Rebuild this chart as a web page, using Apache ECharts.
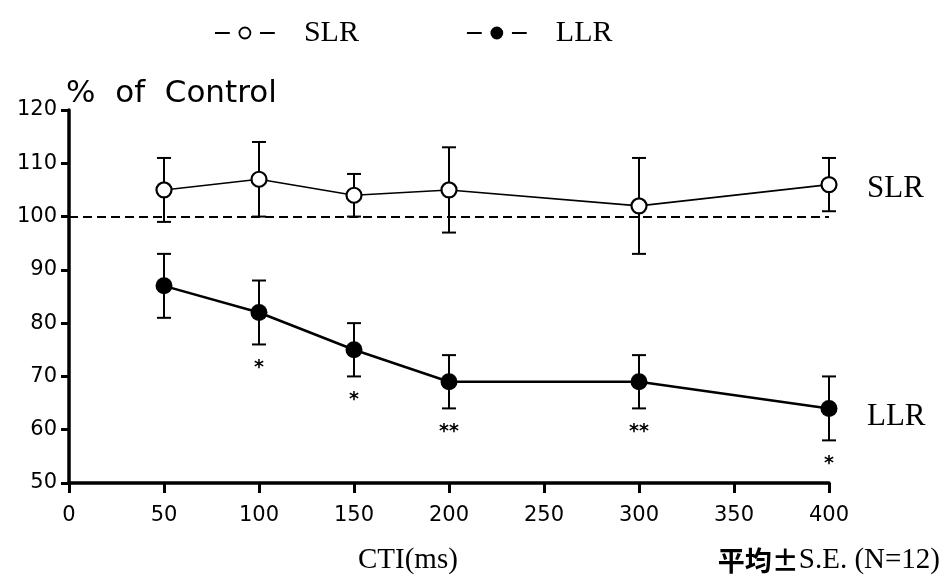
<!DOCTYPE html>
<html>
<head>
<meta charset="utf-8">
<script src="https://cdn.jsdelivr.net/npm/echarts@6/dist/echarts.min.js"></script>
<style>
html,body{margin:0;padding:0;background:#fff;}
#chart{width:944px;height:583px;}
</style>
</head>
<body>
<div id="chart"></div>
<script>
// Data
var ctiValues = [50, 100, 150, 200, 300, 400];
var slrMean = [105, 107, 104, 105, 102, 106];
var slrLow  = [99, 100, 100, 97, 93, 101];
var slrHigh = [111, 114, 108, 113, 111, 111];
var llrMean = [87, 82, 75, 69, 69, 64];
var llrLow  = [81, 76, 70, 64, 64, 58];
var llrHigh = [93, 88, 80, 74, 74, 70];
var significance = ['', '*', '*', '**', '**', '*'];
var xTicks = [0, 50, 100, 150, 200, 250, 300, 350, 400];
var yTicks = [50, 60, 70, 80, 90, 100, 110, 120];
var controlLevel = 100;

var serif = '"Liberation Serif", "DejaVu Serif", serif';
var sans = '"DejaVu Sans", sans-serif';
var cjk = '"Noto Sans CJK JP", "Noto Sans CJK SC", sans-serif';

// legend icon "-o-": two short dashes and a circle
var legendIcon = 'path://M0,5.8h13v0.4h-13z M45,5.8h13v0.4h-13z M23.5,6a5.5,5.5 0 1,0 11,0a5.5,5.5 0 1,0 -11,0z';

function pairs(xs, ys) { return xs.map(function (x, i) { return [x, ys[i]]; }); }
function errData(xs, lo, hi) { return xs.map(function (x, i) { return [x, lo[i], hi[i]]; }); }

function errorBarRender(params, api) {
  var x = api.value(0);
  var lo = api.coord([x, api.value(1)]);
  var hi = api.coord([x, api.value(2)]);
  var cap = 7;
  var st = { stroke: '#000', lineWidth: 2 };
  return {
    type: 'group',
    children: [
      { type: 'line', shape: { x1: lo[0], y1: lo[1], x2: hi[0], y2: hi[1] }, style: st },
      { type: 'line', shape: { x1: lo[0] - cap, y1: lo[1], x2: lo[0] + cap, y2: lo[1] }, style: st },
      { type: 'line', shape: { x1: hi[0] - cap, y1: hi[1], x2: hi[0] + cap, y2: hi[1] }, style: st }
    ]
  };
}

var sigData = ctiValues.map(function (x, i) { return [x, llrLow[i], significance[i]]; });

var chart = echarts.init(document.getElementById('chart'), null, { renderer: 'canvas' });
chart.setOption({
  animation: false,
  backgroundColor: '#fff',
  legend: {
    top: 13,
    left: 210,
    itemGap: 108,
    itemWidth: 58,
    itemHeight: 12,
    textStyle: { fontFamily: serif, fontSize: 30, color: '#000', padding: [0, 0, 0, 25] },
    data: [
      { name: 'SLR', icon: legendIcon, itemStyle: { color: '#fff', borderColor: '#000', borderWidth: 1.8 } },
      { name: 'LLR', icon: legendIcon, itemStyle: { color: '#000', borderColor: '#000', borderWidth: 1.8 } }
    ]
  },
  grid: { left: 69, right: 115, top: 110, bottom: 100, containLabel: false },
  xAxis: {
    type: 'value',
    min: 0, max: 400, interval: 50,
    axisLine: { lineStyle: { color: '#000', width: 3.5 } },
    axisTick: { show: true, length: 10, lineStyle: { color: '#000', width: 3 } },
    axisLabel: { color: '#000', fontFamily: sans, fontSize: 21, margin: 22,
      formatter: function (v) { return xTicks.indexOf(v) >= 0 ? String(v) : ''; } },
    splitLine: { show: false }
  },
  yAxis: {
    type: 'value',
    min: 50, max: 120, interval: 10,
    name: '%  of  Control',
    nameLocation: 'end',
    nameGap: 1,
    nameTextStyle: { color: '#000', fontFamily: sans, fontSize: 31, align: 'left', padding: [0, 0, 0, -3] },
    axisLine: { show: true, lineStyle: { color: '#000', width: 3.5 } },
    axisTick: { show: true, length: 8, lineStyle: { color: '#000', width: 3 } },
    axisLabel: { color: '#000', fontFamily: sans, fontSize: 21, margin: 12,
      formatter: function (v) { return yTicks.indexOf(v) >= 0 ? String(v) : ''; } },
    splitLine: { show: false }
  },
  series: [
    {
      name: 'SLR',
      type: 'line',
      data: pairs(ctiValues, slrMean),
      symbol: 'circle',
      symbolSize: 15,
      lineStyle: { color: '#000', width: 1.6 },
      itemStyle: { color: '#fff', borderColor: '#000', borderWidth: 2.2 },
      z: 5,
      endLabel: { show: true, formatter: 'SLR', color: '#000', fontFamily: serif, fontSize: 31, distance: 38, offset: [0, 4] },
      markLine: {
        silent: true,
        symbol: 'none',
        label: { show: false },
        lineStyle: { color: '#000', type: [9, 5], width: 2 },
        data: [{ yAxis: controlLevel }]
      }
    },
    {
      name: 'LLR',
      type: 'line',
      data: pairs(ctiValues, llrMean),
      symbol: 'circle',
      symbolSize: 17,
      lineStyle: { color: '#000', width: 2.5 },
      itemStyle: { color: '#000', borderColor: '#000', borderWidth: 0 },
      z: 5,
      endLabel: { show: true, formatter: 'LLR', color: '#000', fontFamily: serif, fontSize: 31, distance: 38, offset: [0, 8] }
    },
    {
      name: 'SLR err',
      type: 'custom',
      renderItem: errorBarRender,
      data: errData(ctiValues, slrLow, slrHigh),
      encode: { x: 0, y: [1, 2] },
      z: 3,
      silent: true
    },
    {
      name: 'LLR err',
      type: 'custom',
      renderItem: errorBarRender,
      data: errData(ctiValues, llrLow, llrHigh),
      encode: { x: 0, y: [1, 2] },
      z: 3,
      silent: true
    },
    {
      name: 'sig',
      type: 'custom',
      data: sigData,
      encode: { x: 0, y: 1 },
      silent: true,
      renderItem: function (params, api) {
        var p = api.coord([api.value(0), api.value(1)]);
        return {
          type: 'text',
          style: {
            x: p[0], y: p[1] + 24,
            text: sigData[params.dataIndex][2],
            fill: '#000',
            font: 'bold 19px ' + sans,
            textAlign: 'center',
            textVerticalAlign: 'middle'
          }
        };
      }
    }
  ],
  graphic: [
    { type: 'text', left: 358, top: 546,
      style: { text: 'CTI(ms)', fill: '#000', font: '29px ' + serif } },
    { type: 'text', right: 4, top: 546,
      style: {
        text: '{c|平均±}{l|S.E. (N=12)}',
        rich: {
          c: { fontFamily: cjk, fontWeight: 'bold', fontSize: 27, fill: '#000', color: '#000' },
          l: { fontFamily: serif, fontSize: 29, fill: '#000', color: '#000' }
        }
      } }
  ]
});
</script>
</body>
</html>
